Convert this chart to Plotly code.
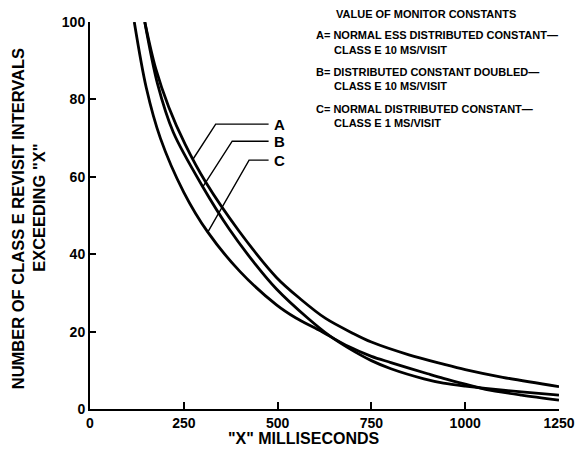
import numpy as np
import plotly.graph_objects as go

# ---- data ----
x_A = [146, 175, 210, 253, 309, 397, 497, 560, 628, 700, 750, 850, 942, 1000, 1100, 1250]
y_A = [100, 88, 78, 68.5, 58.5, 46, 34, 28.5, 23.4, 19.6, 17.3, 14.0, 11.6, 10.2, 8.2, 5.8]

x_B = [146, 180, 222, 300, 371, 440, 497, 580, 640, 688, 750, 802, 890, 942, 1000, 1054, 1150, 1250]
y_B = [100, 84, 71.5, 57.5, 46.5, 37.5, 31, 23.5, 18.8, 15.8, 12.5, 10.4, 7.8, 6.7, 5.9, 5.3, 4.4, 3.6]

x_C = [118, 150, 187.5, 250, 314, 400, 497, 549, 610, 688, 750, 802, 900, 942, 1000, 1054, 1150, 1250]
y_C = [100, 83, 70, 56, 45.7, 35.5, 26.9, 23.5, 20.4, 16.2, 13.6, 12.0, 9.1, 7.9, 6.4, 5.1, 3.6, 2.3]

series_names = ["A", "B", "C"]
x_ticks = [0, 250, 500, 750, 1000, 1250]
y_ticks = [0, 20, 40, 60, 80, 100]

legend_title = "VALUE OF MONITOR CONSTANTS"
legend_lines = [
    ("A= NORMAL ESS DISTRIBUTED CONSTANT\u2014", "CLASS E 10 MS/VISIT"),
    ("B= DISTRIBUTED CONSTANT DOUBLED\u2014", "CLASS E 10 MS/VISIT"),
    ("C= NORMAL DISTRIBUTED CONSTANT\u2014", "CLASS E 1 MS/VISIT"),
]

# leader geometry: (label y, corner x, end y on curve)
leader_y = [73.6, 69.2, 64.3]
leader_corner_x = [335, 379, 424]
leader_end_y = [64.6, 57.4, 45.7]
label_x = 505
leader_right_x = 476

FONT = "Liberation Sans"

fig = go.Figure()
curves = [(x_A, y_A), (x_B, y_B), (x_C, y_C)]
for name, (xs, ys) in zip(series_names, curves):
    fig.add_trace(go.Scatter(x=xs, y=ys, mode="lines", name=name,
                             line=dict(color="black", width=2.8, shape="spline", smoothing=0.9),
                             showlegend=False, hoverinfo="skip"))

for i, (xs, ys) in enumerate(curves):
    ex = float(np.interp(leader_end_y[i], ys[::-1], xs[::-1]))
    fig.add_trace(go.Scatter(
        x=[ex, leader_corner_x[i], leader_right_x],
        y=[leader_end_y[i], leader_y[i], leader_y[i]],
        mode="lines", line=dict(color="black", width=1.4),
        showlegend=False, hoverinfo="skip"))
    fig.add_annotation(x=label_x, y=leader_y[i], text="<b>%s</b>" % series_names[i],
                       showarrow=False, xanchor="center", yanchor="middle",
                       font=dict(family=FONT, size=15, color="black"))

# legend text block
def px_to_paper_x(px):
    return (px - 90) / 477.0

def px_to_paper_y(py):
    return (409 - py) / 387.0

LFS = 11
fig.add_annotation(xref="paper", yref="paper", x=px_to_paper_x(338), y=px_to_paper_y(14),
                   text="<b>%s</b>" % legend_title, showarrow=False,
                   xanchor="left", yanchor="middle",
                   font=dict(family=FONT, size=LFS, color="black"))
rows = [(35, 50), (72, 86), (109, 123)]
for (l1, l2), (y1, y2) in zip(legend_lines, rows):
    fig.add_annotation(xref="paper", yref="paper", x=px_to_paper_x(318), y=px_to_paper_y(y1),
                       text="<b>%s</b>" % l1, showarrow=False, xanchor="left", yanchor="middle",
                       font=dict(family=FONT, size=LFS, color="black"))
    fig.add_annotation(xref="paper", yref="paper", x=px_to_paper_x(336), y=px_to_paper_y(y2),
                       text="<b>%s</b>" % l2, showarrow=False, xanchor="left", yanchor="middle",
                       font=dict(family=FONT, size=LFS, color="black"))

# axis titles
fig.add_annotation(xref="paper", yref="paper", x=px_to_paper_x(17), y=px_to_paper_y(219),
                   text="<b>NUMBER OF CLASS E REVISIT INTERVALS</b>", textangle=-90,
                   showarrow=False, xanchor="center", yanchor="middle",
                   font=dict(family=FONT, size=16.5, color="black"))
fig.add_annotation(xref="paper", yref="paper", x=px_to_paper_x(38), y=px_to_paper_y(208),
                   text="<b>EXCEEDING \"X\"</b>", textangle=-90,
                   showarrow=False, xanchor="center", yanchor="middle",
                   font=dict(family=FONT, size=16.5, color="black"))
fig.add_annotation(xref="paper", yref="paper", x=px_to_paper_x(308), y=px_to_paper_y(438),
                   text="<b>\"X\" MILLISECONDS</b>",
                   showarrow=False, xanchor="center", yanchor="middle",
                   font=dict(family=FONT, size=16, color="black"))

fig.update_xaxes(range=[0, 1250], tickvals=x_ticks, ticktext=[str(v) for v in x_ticks],
                 ticks="inside", ticklen=7, tickwidth=2, tickcolor="black",
                 showline=True, linecolor="black", linewidth=2, showgrid=False, zeroline=False,
                 tickfont=dict(family=FONT, size=14, color="black", weight="bold"))
fig.update_yaxes(range=[0, 100], tickvals=y_ticks, ticktext=[str(v) for v in y_ticks],
                 ticks="inside", ticklen=6, tickwidth=2, tickcolor="black",
                 showline=True, linecolor="black", linewidth=2, showgrid=False, zeroline=False,
                 tickfont=dict(family=FONT, size=14, color="black", weight="bold"))

fig.update_layout(width=587, height=460, margin=dict(l=90, r=20, t=22, b=51),
                  paper_bgcolor="white", plot_bgcolor="white", showlegend=False)

fig.write_html("out.html")
